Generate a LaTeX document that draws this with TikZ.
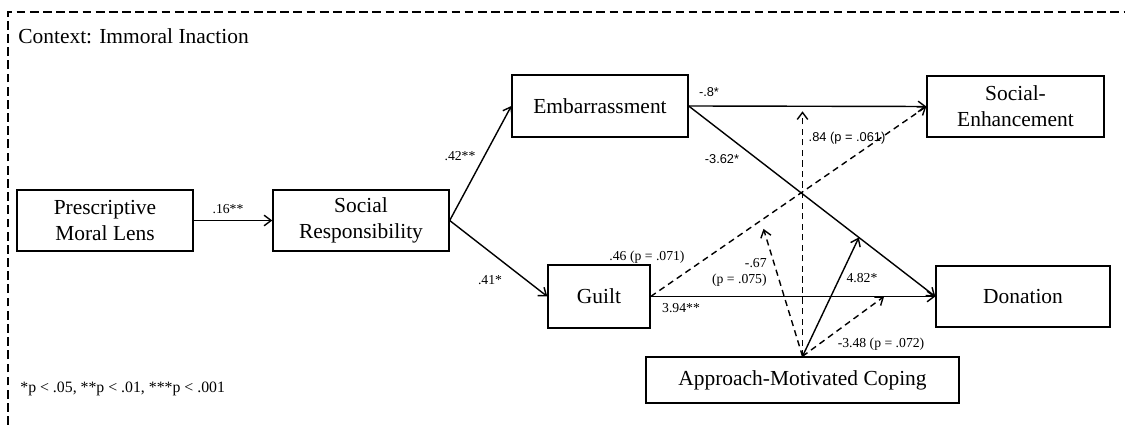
\documentclass[tikz,border=0pt]{standalone}
\usepackage{fontspec}
\setmainfont{Liberation Serif}
\newfontfamily\labsans{Liberation Sans}
\usetikzlibrary{arrows.meta, calc}

\begin{document}
\begin{tikzpicture}[
  x=0.02cm, y=-0.02cm,
  var/.style={draw, line width=0.8pt, minimum width=#1, minimum height=1.22cm,
              inner sep=0pt, align=center, font=\fontsize{12.2}{14.8}\selectfont},
  coef/.style={font=\fontsize{7.8}{9.2}\selectfont, inner sep=0pt, align=right},
  coefsf/.style={coef, font=\labsans\fontsize{7.3}{9}\selectfont},
  link/.style={line width=0.8pt, -{Straight Barb[length=4pt, width=6pt]}},
  weaklink/.style={link, dash pattern=on 3.5pt off 2.5pt},
]
\useasboundingbox (0,0) rectangle (1125,425);
\draw[line width=0.6pt, dash pattern=on 5pt off 2.5pt] (8,425) -- (8,12) -- (1125,12);

\node[anchor=west, inner sep=0pt, font=\fontsize{12.2}{14}\selectfont] (ctx) at (18,36) {Context: Immoral Inaction};
\node[var=3.52cm]                        (pml)   at (105,220.5)  {Prescriptive\\Moral Lens};
\node[var=3.52cm]                        (sr)    at (361,220.5)  {Social\\Responsibility};
\node[var=3.52cm, minimum height=1.24cm] (emb)   at (600,106)    {Embarrassment};
\node[var=3.54cm]                        (senh)  at (1015.5,106.5) {Social-\\Enhancement};
\node[var=2.04cm, minimum height=1.26cm] (guilt) at (599,296.5)  {Guilt};
\node[var=3.48cm]                        (don)   at (1023,296.5) {Donation};
\node[var=6.26cm, minimum height=0.92cm] (amc)   at (802.5,380)  {Approach-Motivated Coping};
\node[anchor=west, inner sep=0pt, font=\fontsize{9}{11}\selectfont] (note) at (20,389) {*p < .05, **p < .01, ***p < .001};

\draw[link] (pml) -- (sr);
\draw[link] (sr.east) -- (emb.west);
\draw[link] (sr.east) -- (guilt.west);
\draw[link] (emb.east) -- (senh.west);
\draw[link] (emb.east) -- (don.west);
\draw[link] (guilt.east) -- (don.west);
\draw[weaklink] (guilt.east) -- (senh.west);

\coordinate (ed) at ($(emb.east)!0.69!(don.west)$);
\coordinate (gs) at ($(guilt.east)!0.40!(senh.west)$);
\coordinate (es) at (amc.north |- emb.east);
\coordinate (gd) at ($(guilt.east)!0.82!(don.west)$);
\draw[link] (amc.north) -- (ed);
\draw[weaklink, shorten >=5pt] (amc.north) -- (gs);
\draw[weaklink, shorten >=3pt] (amc.north) -- (es);
\draw[weaklink] (amc.north) -- (gd);

\node[coef]              (b1)  at (228,209)   {.16**};
\node[coef]              (b2)  at (460,156)   {.42**};
\node[coef]              (b3)  at (490,280)   {.41*};
\node[coefsf]            (b4)  at (709,92)    {-.8*};
\node[coefsf]            (b5)  at (722,159)   {-3.62*};
\node[coefsf]            (b6)  at (847,138)   {.84 (p = .061)};
\node[coef]              (b7)  at (647,257)   {.46 (p = .071)};
\node[coef, anchor=east] (b8)  at (767,272.5) {-.67\\(p = .075)};
\node[coef]              (b9)  at (862,278)   {4.82*};
\node[coef]              (b10) at (681,308)   {3.94**};
\node[coef]              (b11) at (881,344)   {-3.48 (p = .072)};
\end{tikzpicture}
\end{document}
